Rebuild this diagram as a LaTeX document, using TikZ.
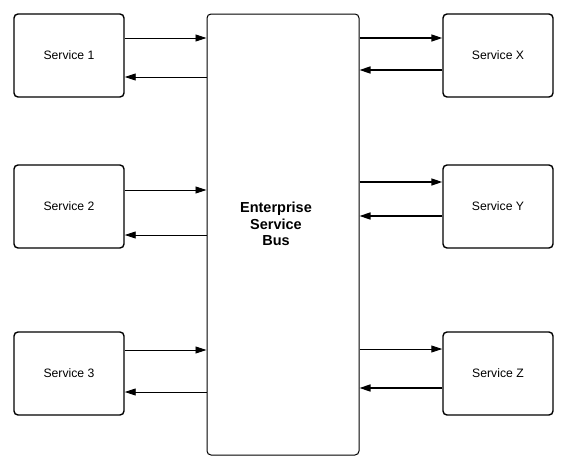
\documentclass[tikz,border=0pt]{standalone}
\usepackage{fontspec}
\setmainfont{Liberation Sans}
\usetikzlibrary{arrows.meta}
\begin{document}
\begin{tikzpicture}[x=1pt,y=-1pt,
  svc/.style={draw, line width=1.4pt, rounded corners=4pt, minimum width=110pt, minimum height=83pt, inner sep=0pt, font=\fontsize{12.2}{14}\selectfont},
  bus/.style={draw, line width=1pt, rounded corners=4pt, minimum width=152pt, minimum height=441pt, inner sep=0pt},
  bustext/.style={align=center, inner sep=0pt, font=\fontsize{14.5}{16.5}\selectfont\bfseries},
  thin/.style={line width=0.9pt, -{Triangle[length=11pt,width=7pt]}},
  thick/.style={line width=1.6pt, -{Triangle[length=11pt,width=7pt]}}
]
\useasboundingbox (0,0) rectangle (566,469);
\node[bus] (b) at (283,234.5) {};
\node[bustext] (bt) at (276,224) {Enterprise\\Service\\Bus};
\node[svc] (s1) at (69,55.5) {Service 1};
\node[svc] (s2) at (69,206.5) {Service 2};
\node[svc] (s3) at (69,373.5) {Service 3};
\node[svc] (sx) at (498,55.5) {Service X};
\node[svc] (sy) at (498,206.5) {Service Y};
\node[svc] (sz) at (498,373.5) {Service Z};
% left side
\draw[thin] (s1.east |- 0,38) -- (b.west |- 0,38);
\draw[thin] (b.west |- 0,77) -- (s1.east |- 0,77);
\draw[thin] (s2.east |- 0,190) -- (b.west |- 0,190);
\draw[thin] (b.west |- 0,235) -- (s2.east |- 0,235);
\draw[thin] (s3.east |- 0,350) -- (b.west |- 0,350);
\draw[thin] (b.west |- 0,392) -- (s3.east |- 0,392);
% right side
\draw[thick] (b.east |- 0,38) -- (sx.west |- 0,38);
\draw[thick] (sx.west |- 0,70) -- (b.east |- 0,70);
\draw[thick] (b.east |- 0,182) -- (sy.west |- 0,182);
\draw[thick] (sy.west |- 0,216) -- (b.east |- 0,216);
\draw[thin] (b.east |- 0,349) -- (sz.west |- 0,349);
\draw[thick] (sz.west |- 0,388) -- (b.east |- 0,388);
\end{tikzpicture}
\end{document}
